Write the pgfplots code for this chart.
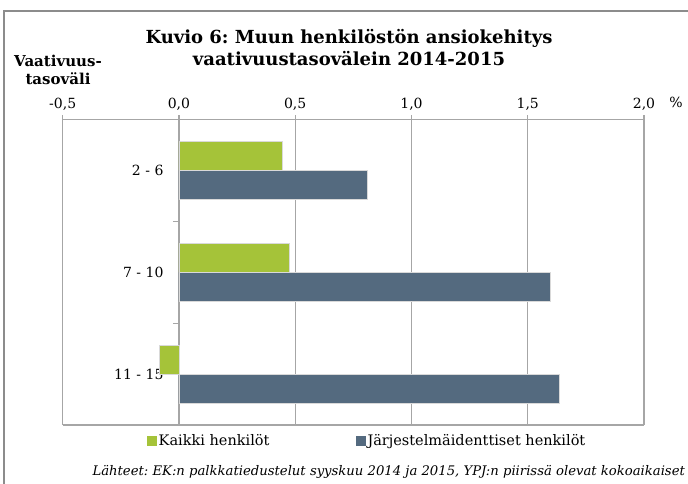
\documentclass[border=0pt]{standalone}
\usepackage{pgfplots}
\pgfplotsset{compat=1.18}
\usepackage{fontspec}
\setmainfont{DejaVu Serif}
\frenchspacing
\definecolor{cgreen}{HTML}{A5C339}
\definecolor{cslate}{HTML}{546A7F}
\definecolor{cgrid}{HTML}{A6A6A6}
\definecolor{cframe}{HTML}{8C8C8C}
\begin{document}
\begin{tikzpicture}[x=1pt,y=1pt]
\path[use as bounding box] (0,0) rectangle (688,484);
\draw[cframe, line width=1.2pt] (4,-20) -- (4,473) -- (710,473);
\node[font=\bfseries\fontsize{18}{22}\selectfont, align=center] at (349,436) {Kuvio 6: Muun henkilöstön ansiokehitys\\vaativuustasovälein 2014-2015};
\node[font=\bfseries\fontsize{15}{18}\selectfont, align=center] at (58,414) {Vaativuus-\\tasoväli};
\node[font=\fontsize{14}{18}\selectfont] at (676,382) {\%};
\node[font=\itshape\fontsize{13.2}{17}\selectfont, anchor=west] at (89,12) {Lähteet: EK:n palkkatiedustelut syyskuu 2014 ja 2015, YPJ:n piirissä olevat kokoaikaiset};
\begin{axis}[
  at={(62.7pt,59pt)}, anchor=south west, scale only axis,
  width=581.3pt, height=305.5pt,
  xbar, bar width=29pt,
  xmin=-0.5, xmax=2, ymin=0.5, ymax=3.5, y dir=reverse,
  axis x line=box, axis y line=center,
  axis line style={cgrid, line width=1.1pt, -},
  xtick={-0.5,0,0.5,1,1.5,2},
  xtick pos=upper, xticklabel pos=upper,
  tick align=outside, major tick length=4pt,
  x tick style={cgrid, line width=1.1pt},
  xmajorgrids, grid style={cgrid, line width=1.1pt},
  /pgf/number format/assume math mode=true,
  xticklabel style={/pgf/number format/.cd, use comma, fixed, fixed zerofill, precision=1, /tikz/.cd, font=\fontsize{14}{18}\selectfont, yshift=2pt},
  ytick={1,2,3},
  yticklabels={2 - 6, 7 - 10, 11 - 15},
  y tick style={draw=none},
  yticklabel style={font=\fontsize{14}{18}\selectfont, xshift=-8pt},
  extra y ticks={0.5,1.5,2.5,3.5},
  extra y tick labels={},
  extra y tick style={y tick style={draw=cgrid, line width=1.1pt}, major tick length=6pt, tick align=outside},
  legend columns=2,
  legend style={draw=none, fill=none, at={(0.5235,-0.052)}, anchor=center, font=\fontsize{14.5}{18}\selectfont,
    /tikz/every even column/.append style={column sep=84pt}},
  legend image code/.code={\fill[#1, draw=none] (0pt,-5pt) rectangle (10pt,5pt);},
]
\addplot[fill=cgreen, draw=white!85!black, line width=0.4pt, bar shift=14.5pt] coordinates {(0.443,1) (0.474,2) (-0.085,3)};
\addlegendentry{Kaikki henkilöt}
\addplot[fill=cslate, draw=white!85!black, line width=0.4pt, bar shift=-14.5pt] coordinates {(0.808,1) (1.597,2) (1.634,3)};
\addlegendentry{Järjestelmäidenttiset henkilöt}
\end{axis}
\end{tikzpicture}
\end{document}
